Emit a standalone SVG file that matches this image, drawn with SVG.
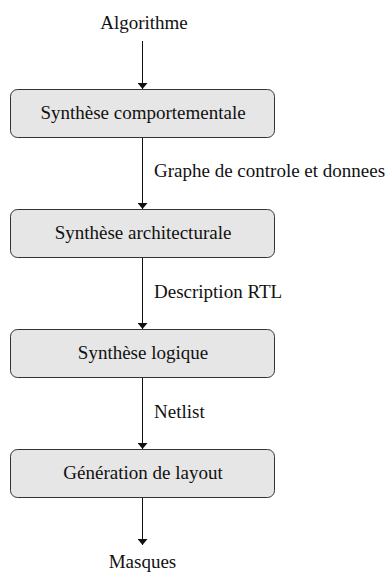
<svg xmlns="http://www.w3.org/2000/svg" width="387" height="573" viewBox="0 0 387 573">
  <style>
    text { font-family: "Liberation Serif", "Times New Roman", serif; font-size: 19px; fill: #111; }
    .mid { text-anchor: middle; }
    .box rect { fill: #e6e6e6; stroke: #333; stroke-width: 1; }
    .flow line { stroke: #111; stroke-width: 1; marker-end: url(#head); }
  </style>
  <defs>
    <marker id="head" viewBox="0 0 6 10" refX="6" refY="5" markerWidth="6" markerHeight="10" markerUnits="userSpaceOnUse" orient="auto-start-reverse">
      <path d="M0,0 L6,5 L0,10 Z" fill="#111"/>
    </marker>
  </defs>

  <rect width="387" height="573" fill="#fff"/>

  <!-- connectors -->
  <g id="connectors" class="flow">
    <line x1="142.5" y1="41" x2="142.5" y2="89"/>
    <line x1="142.5" y1="137" x2="142.5" y2="209"/>
    <line x1="142.5" y1="257" x2="142.5" y2="329"/>
    <line x1="142.5" y1="377" x2="142.5" y2="449"/>
    <line x1="142.5" y1="497" x2="142.5" y2="545"/>
  </g>

  <!-- edge labels -->
  <g id="edge-labels">
    <text x="154" y="177">Graphe de controle et donnees</text>
    <text x="154" y="298">Description RTL</text>
    <text x="154" y="418">Netlist</text>
  </g>

  <!-- terminals -->
  <g id="input"><text class="mid" x="144" y="29">Algorithme</text></g>
  <g id="output"><text class="mid" x="142.5" y="568">Masques</text></g>

  <!-- process steps -->
  <g id="synth-comportementale" class="box">
    <rect x="10.5" y="89.5" width="264" height="48" rx="7"/>
    <text class="mid" x="143" y="119">Synthèse comportementale</text>
  </g>
  <g id="synth-architecturale" class="box">
    <rect x="10.5" y="209.5" width="264" height="48" rx="7"/>
    <text class="mid" x="143" y="239">Synthèse architecturale</text>
  </g>
  <g id="synth-logique" class="box">
    <rect x="10.5" y="329.5" width="264" height="48" rx="7"/>
    <text class="mid" x="143" y="359">Synthèse logique</text>
  </g>
  <g id="generation-layout" class="box">
    <rect x="10.5" y="449.5" width="264" height="48" rx="7"/>
    <text class="mid" x="143" y="479">Génération de layout</text>
  </g>
</svg>
